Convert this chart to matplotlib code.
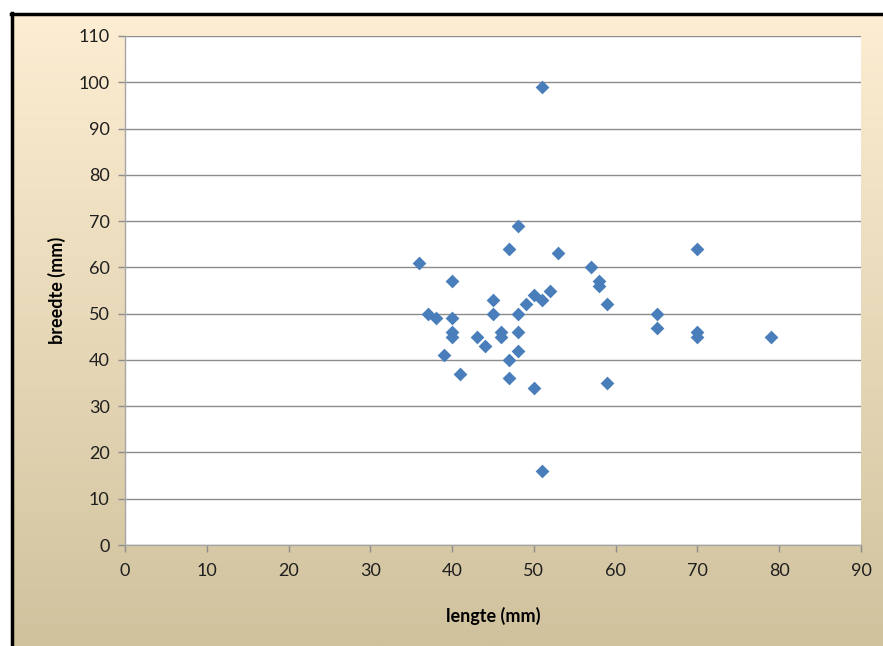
import numpy as np
import matplotlib
matplotlib.use("Agg")
import matplotlib.pyplot as plt
from matplotlib.lines import Line2D

# lengte / breedte measurements (mm)
lengte = [36, 37, 38, 39, 40, 40, 40, 40, 41, 43, 44, 45, 45, 46, 46,
          47, 47, 47, 48, 48, 48, 48, 49, 50, 50, 51, 51, 51, 52, 53,
          57, 58, 58, 59, 59, 65, 65, 70, 70, 70, 79]
breedte = [61, 50, 49, 41, 57, 49, 46, 45, 37, 45, 43, 53, 50, 46, 45,
           64, 40, 36, 69, 50, 46, 42, 52, 54, 34, 99, 53, 16, 55, 63,
           60, 57, 56, 52, 35, 50, 47, 64, 46, 45, 45]

x_ticks = list(range(0, 100, 10))
y_ticks = list(range(0, 120, 10))

plt.rcParams['font.family'] = ['Lato', 'DejaVu Sans']

W, H = 883, 646
fig = plt.figure(figsize=(W / 100, H / 100), dpi=100)
fig.patch.set_facecolor('white')

# gradient chart-area background inside the black frame
bg = fig.add_axes([13 / W, 0, 1 - 13 / W, 1 - 15 / H])
top_col = np.array([253, 238, 211]) / 255
bot_col = np.array([209, 194, 158]) / 255
t = np.linspace(0, 1, 256)[:, None]
grad = top_col[None, :] * (1 - t) + bot_col[None, :] * t
bg.imshow(grad[:, None, :], aspect='auto', extent=[0, 1, 0, 1],
          interpolation='bilinear')
bg.set_axis_off()

# black frame on top and left
fig.add_artist(Line2D([11 / W, 1], [1 - 13.5 / H, 1 - 13.5 / H],
                      color='black', lw=2.5, transform=fig.transFigure))
fig.add_artist(Line2D([12 / W, 12 / W], [0, 1 - 12.5 / H],
                      color='black', lw=2.5, transform=fig.transFigure))

ax = fig.add_axes([125 / W, (H - 545) / H, (861 - 125) / W, (545 - 36) / H])
ax.set_facecolor('white')
ax.scatter(lengte, breedte, marker='D', s=7 ** 2, color='#4A7EBB',
           linewidths=0, zorder=3)

ax.set_xlim(0, 90)
ax.set_ylim(0, 110)
ax.set_xticks(x_ticks)
ax.set_yticks(y_ticks)
ax.yaxis.grid(True, color='#8c8c8c', lw=1)
ax.set_axisbelow(True)

for side in ('top', 'right'):
    ax.spines[side].set_visible(False)
for side in ('left', 'bottom'):
    ax.spines[side].set_color('#a6a6a6')
    ax.spines[side].set_linewidth(1)

ax.tick_params(axis='both', direction='out', length=5, width=1,
               color='#8c8c8c', labelsize=13, labelcolor='#1f1f1f')
ax.tick_params(axis='x', pad=8)
ax.tick_params(axis='y', pad=6)

ax.set_xlabel('lengte (mm)', fontsize=13, fontweight='bold', labelpad=20)
ax.set_ylabel('breedte (mm)', fontsize=13, fontweight='bold', labelpad=9)

fig.savefig('out.png', dpi=100)
